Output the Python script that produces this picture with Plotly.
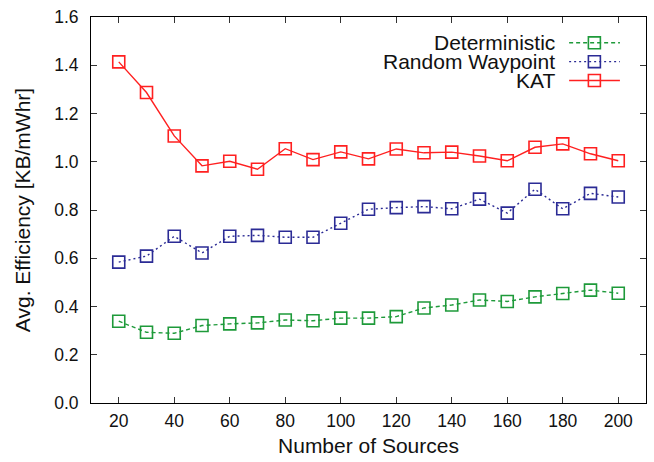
import plotly.graph_objects as go

sources = [20, 30, 40, 50, 60, 70, 80, 90, 100, 110, 120, 130, 140, 150, 160, 170, 180, 190, 200]
deterministic = [0.339, 0.293, 0.289, 0.321, 0.328, 0.332, 0.344, 0.341, 0.352, 0.352, 0.358, 0.394,
                 0.406, 0.427, 0.421, 0.440, 0.454, 0.468, 0.455]
random_waypoint = [0.584, 0.609, 0.691, 0.622, 0.691, 0.695, 0.687, 0.687, 0.745, 0.803, 0.810, 0.814,
                   0.805, 0.845, 0.787, 0.886, 0.805, 0.869, 0.854]
kat = [1.414, 1.287, 1.107, 0.983, 1.002, 0.969, 1.054, 1.009, 1.041, 1.012, 1.053, 1.037,
       1.040, 1.024, 1.004, 1.060, 1.074, 1.033, 1.004]

series_names = ["Deterministic", "Random Waypoint", "KAT"]
series_values = [deterministic, random_waypoint, kat]
colors = ["#1e9a3a", "#2b2b95", "#ff2020"]
dashes = ["4px,3px", "2px,3px", "solid"]

x_ticks = [20, 40, 60, 80, 100, 120, 140, 160, 180, 200]
y_ticks = [0.0, 0.2, 0.4, 0.6, 0.8, 1.0, 1.2, 1.4, 1.6]

FONT = "Liberation Sans, Arial, sans-serif"

fig = go.Figure()
for name, vals, col, dash in zip(series_names, series_values, colors, dashes):
    fig.add_trace(go.Scatter(
        x=sources, y=vals, name=name, mode="lines+markers",
        line=dict(color=col, width=1.4, dash=dash),
        marker=dict(symbol="square-open", size=12, color=col, line=dict(width=1.6, color=col)),
        showlegend=False,
    ))

# custom legend (text right-aligned, sample to the right) in paper coordinates
leg_rows = [0.9332, 0.8843, 0.8355]
x0s, x1s, xm = 0.8615, 0.953, 0.907
hx, hy = 0.0108, 0.0154
shapes = []
annotations = []
for name, col, dash, yr in zip(series_names, colors, dashes, leg_rows):
    shapes.append(dict(type="line", xref="paper", yref="paper", x0=x0s, x1=x1s, y0=yr, y1=yr,
                       line=dict(color=col, width=1.4, dash=dash)))
    shapes.append(dict(type="rect", xref="paper", yref="paper", x0=xm - hx, x1=xm + hx,
                       y0=yr - hy, y1=yr + hy, line=dict(color=col, width=1.6)))
    annotations.append(dict(xref="paper", yref="paper", x=0.838, y=yr, text=name, showarrow=False,
                            xanchor="right", yanchor="middle", borderpad=0,
                            font=dict(family=FONT, size=21, color="#111")))

fig.update_layout(
    width=654, height=462,
    margin=dict(l=91, r=7, t=14, b=59),
    plot_bgcolor="white", paper_bgcolor="white",
    font=dict(family=FONT, size=17.5, color="#111"),
    shapes=shapes, annotations=annotations,
    xaxis=dict(range=[10, 210], tickvals=x_ticks, ticks="inside", ticklen=6, tickcolor="#333",
               showline=True, linecolor="black", linewidth=1, mirror="ticks", showgrid=False, zeroline=False,
               title=dict(text="Number of Sources", font=dict(size=21), standoff=8),
               tickfont=dict(size=17.5), ticklabelstandoff=2),
    yaxis=dict(range=[0, 1.6], tickvals=y_ticks, ticktext=[f"{v:.1f}" for v in y_ticks],
               ticks="inside", ticklen=6, tickcolor="#333",
               showline=True, linecolor="black", linewidth=1, mirror="ticks", showgrid=False, zeroline=False,
               title=dict(text="Avg. Efficiency [KB/mWhr]", font=dict(size=21), standoff=17),
               tickfont=dict(size=17.5), ticklabelstandoff=8),
)

fig.write_html("out.html", config={"displayModeBar": False},
               post_script="document.body.style.margin='0';document.body.style.padding='0';")
